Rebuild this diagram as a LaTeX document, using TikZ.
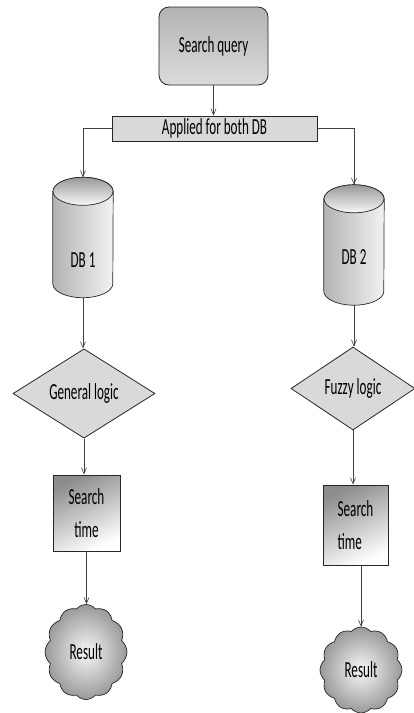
\documentclass[tikz,border=0pt]{standalone}
\usepackage{fontspec}
\newfontfamily\cf[FakeStretch=0.57]{Carlito}
\usetikzlibrary{shapes.geometric,shapes.symbols,arrows.meta}
\begin{document}
\begin{tikzpicture}[x=1pt,y=-1pt,
  every node/.style={font=\cf\fontsize{23}{33}\selectfont, text=black, inner sep=0pt},
  conn/.style={draw=black!75, line width=0.6pt, -{Straight Barb[length=6pt,width=5pt]}},
  qbox/.style={draw=black!85, line width=0.8pt, rounded corners=10pt, top color=black!30, bottom color=black!14},
  abox/.style={draw=black!85, line width=0.8pt, fill=black!15},
  dbbox/.style={minimum width=60, minimum height=120},
  cylbody/.style={draw=black!85, line width=0.7pt, left color=black!30, right color=black!5},
  cyltop/.style={draw=black!85, line width=0.7pt, top color=black!40, bottom color=black!3},
  dia/.style={diamond, draw=black!85, line width=0.8pt, fill=black!15},
  tbox/.style={draw=black!85, line width=1pt, top color=black!45, bottom color=white, shading angle=25, align=center},
  res/.style={cloud, cloud puffs=12, cloud puff arc=100, cloud ignores aspect, draw=black!85, line width=0.7pt, inner color=black!3, outer color=black!40}
]
\useasboundingbox (0,0) rectangle (413,713);

\node[qbox, minimum width=109, minimum height=78] (q) at (213.5,46) {Search query};
\node[abox, minimum width=205, minimum height=25] (a) at (214.5,128.5) {Applied for both DB};

% database cylinders
\node[dbbox] (d1) at (83,237.5) {};
\node[dbbox] (d2) at (354,245) {};
\foreach \d in {d1,d2}{
  \path[cylbody] ([yshift=-14pt]\d.north west) -- ([yshift=14pt]\d.south west)
     arc[start angle=180, end angle=0, x radius=30, y radius=14]
     -- ([yshift=-14pt]\d.north east)
     arc[start angle=0, end angle=-180, x radius=30, y radius=14] -- cycle;
  \path[cyltop] ([yshift=-14pt]\d.north) ellipse[x radius=30, y radius=14];
}
\node (t1) at (83,260) {DB 1};
\node (t2) at (354,257) {DB 2};

\node[dia, minimum width=142, minimum height=77] (g) at (84,393.5) {General logic};
\node[dia, minimum width=124, minimum height=83] (f) at (353,388.5) {Fuzzy logic};

\node[tbox, minimum width=67, minimum height=76] (s1) at (86.5,513) {Search\\time};
\node[tbox, align=left, minimum width=65, minimum height=80] (s2) at (355.5,525) {Search\\time};

\node[res, minimum width=82, minimum height=95] (r1) at (86,652) {Result};
\node[res, minimum width=82, minimum height=86] (r2) at (361,670) {Result};

\draw[conn] (q.south) -- (q.south |- a.north);
\draw[conn] (a.west) -| (d1.north);
\draw[conn] (a.east) -| (d2.north);
\draw[conn] (d1.south) -- (d1.south |- g.north);
\draw[conn] (d2.south) -- (d2.south |- f.north);
\draw[conn] (g.south) -- (g.south |- s1.north);
\draw[conn] (f.south) -- (f.south |- s2.north);
\draw[conn] (s1.south) -- (s1.south |- r1.north);
\draw[conn] (s2.south -| r2.north) -- (r2.north);
\end{tikzpicture}
\end{document}
